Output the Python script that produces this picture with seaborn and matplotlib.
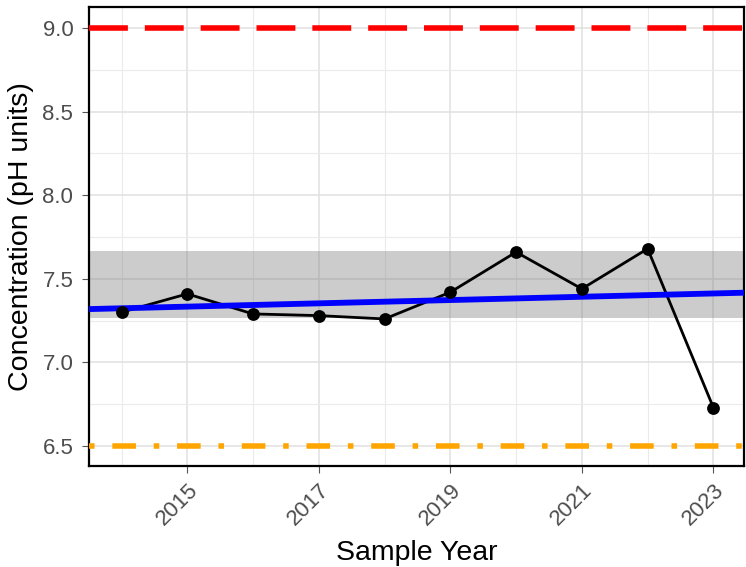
import matplotlib
matplotlib.use("Agg")
import matplotlib.pyplot as plt
import seaborn as sns
import pandas as pd
from matplotlib.ticker import MultipleLocator

# valori
years = [2014, 2015, 2016, 2017, 2018, 2019, 2020, 2021, 2022, 2023]
ph = [7.30, 7.41, 7.29, 7.28, 7.26, 7.42, 7.66, 7.44, 7.68, 6.73]

trend_x = [2013.51, 2023.47]
trend_y = [7.319, 7.417]

band_low, band_high = 7.263, 7.669
upper_limit = 9.0
lower_limit = 6.5

df = pd.DataFrame({'year': years, 'ph': ph})
trend = pd.DataFrame({'year': trend_x, 'ph': trend_y})

sns.set_theme(style='white')
plt.rcParams['font.family'] = ['Liberation Sans', 'DejaVu Sans']

fig, ax = plt.subplots(figsize=(7.46, 5.67), dpi=100)
fig.subplots_adjust(left=0.1197, right=0.9977, top=0.988, bottom=0.178)

# griglia stile ggplot
ax.xaxis.set_major_locator(MultipleLocator(2, offset=1))
ax.xaxis.set_minor_locator(MultipleLocator(2))
ax.yaxis.set_major_locator(MultipleLocator(0.5))
ax.yaxis.set_minor_locator(MultipleLocator(0.25))
ax.grid(which='major', color='#E0E0E0', lw=1.1)
ax.grid(which='minor', color='#EBEBEB', lw=0.8)
ax.set_axisbelow(True)

ax.axhspan(band_low, band_high, color='#808080', alpha=0.4, lw=0, zorder=1)

sns.lineplot(data=df, x='year', y='ph', color='black', lw=2.0, ax=ax, zorder=3)
sns.lineplot(data=trend, x='year', y='ph', color='blue', lw=4.2, ax=ax, zorder=4)
sns.scatterplot(data=df, x='year', y='ph', color='black', s=85, edgecolor='black',
                linewidth=0, ax=ax, zorder=5)

ax.axhline(upper_limit, color='red', lw=4.0, dashes=(7.0, 3.05), zorder=4)
ax.axhline(lower_limit, color='orange', lw=4.0, dashes=(1.0, 3.2, 4.25, 3.2), zorder=4)

ax.set_xlim(2013.51, 2023.47)
ax.set_ylim(6.38, 9.127)

for s in ax.spines.values():
    s.set_color('black')
    s.set_linewidth(1.6)

ax.tick_params(which='major', length=5, width=0.8, color='#555555', labelsize=16,
               labelcolor='#4D4D4D', pad=3, bottom=True, left=True)
ax.tick_params(axis='y', pad=6.5)
ax.tick_params(axis='x', pad=4.5)
ax.tick_params(which='minor', length=0)
ax.yaxis.set_major_formatter(matplotlib.ticker.FormatStrFormatter('%.1f'))
plt.setp(ax.get_xticklabels(), rotation=45, ha='right', va='top', rotation_mode='anchor')

ax.set_xlabel('Sample Year', fontsize=20.5, color='black', labelpad=8)
ax.set_ylabel('Concentration (pH units)', fontsize=20.5, color='black', labelpad=6)

fig.savefig('out.png', dpi=100)
